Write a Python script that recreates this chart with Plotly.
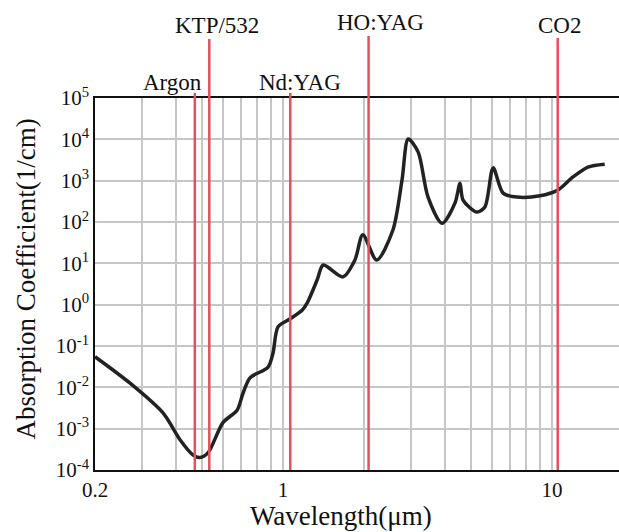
import math
import plotly.graph_objects as go

# Absorption curve (wavelength in µm, absorption coefficient in 1/cm)
wavelength = [0.2, 0.27, 0.358, 0.414, 0.463, 0.49, 0.526, 0.598, 0.675, 0.71, 0.754, 0.88,
              0.918, 0.958, 1.06, 1.18, 1.23, 1.34, 1.41, 1.67, 1.85, 1.98, 2.23, 2.56, 2.77,
              2.92, 3.18, 3.46, 3.90, 4.36, 4.55, 4.67, 5.26, 5.63, 6.04, 6.58, 7.41, 9.02,
              10.5, 11.97, 13.6, 15.7]
absorption = [0.055, 0.0126, 0.0024, 5.4e-4, 2.3e-4, 2.0e-4, 2.6e-4, 1.4e-3, 2.8e-3, 0.0072, 0.017, 0.031,
              0.068, 0.29, 0.45, 0.74, 1.1, 4.0, 9.1, 4.7, 12, 49, 12, 63, 1050,
              10200, 4900, 400, 93, 290, 870, 340, 174, 230, 2040, 500, 400, 430,
              590, 1230, 2140, 2510]

# Laser lines
laser_names = ["Argon", "KTP/532", "Nd:YAG", "HO:YAG", "CO2"]
laser_wl = [0.47, 0.532, 1.064, 2.08, 10.5]

# Axis ticks
x_tickvals = [0.2, 1, 10]
x_ticktext = ["0.2", "1", "10"]
y_exps = [-4, -3, -2, -1, 0, 1, 2, 3, 4, 5]
x_minor = [0.3, 0.4, 0.5, 0.6, 0.7, 0.8, 0.9, 2, 3, 4, 5, 6, 7, 8, 9]

FONT = "Liberation Serif"
GRID = "#c6c6c8"
RED = "#e4505e"

fig = go.Figure()
fig.add_trace(go.Scatter(x=wavelength, y=absorption, mode="lines",
                         line=dict(color="#222222", width=3.5, shape="spline", smoothing=0.8),
                         hoverinfo="skip", showlegend=False))

# line tops (paper y) and label positions
line_top = [1.0134, 1.1586, 1.0134, 1.167, 1.161]
label_y = [1.043, 1.196, 1.043, 1.204, 1.196]
label_dx = [-22, 8, 10, 12, 2]
for name, wl, top, ly, dx in zip(laser_names, laser_wl, line_top, label_y, label_dx):
    fig.add_shape(type="line", xref="x", yref="paper", x0=wl, x1=wl, y0=0, y1=top,
                  line=dict(color=RED, width=2.5), layer="above")
    fig.add_annotation(x=math.log10(wl), xref="x", y=ly, yref="paper", text=name, showarrow=False,
                       xshift=dx, xanchor="center", yanchor="middle",
                       font=dict(family=FONT, size=23, color="#111"))

fig.add_annotation(x=0.469, xref="paper", y=-0.124, yref="paper", text="Wavelength(μm)",
                   showarrow=False, xanchor="center", yanchor="middle",
                   font=dict(family=FONT, size=27, color="#111"))
fig.add_annotation(x=-0.1317, xref="paper", y=0.515, yref="paper", text="Absorption Coefficient(1/cm)",
                   showarrow=False, textangle=-90, xanchor="center", yanchor="middle",
                   font=dict(family=FONT, size=27, color="#111"))

fig.update_layout(
    width=619, height=532,
    margin=dict(l=95, r=0, t=98, b=62),
    paper_bgcolor="white", plot_bgcolor="white",
    font=dict(family=FONT, size=21, color="#111"),
    xaxis=dict(type="log", range=[-0.69897, 1.249], tickvals=x_tickvals, ticktext=x_ticktext,
               showgrid=True, gridcolor=GRID, gridwidth=1.5,
               minor=dict(tickvals=x_minor, showgrid=True, gridcolor=GRID, gridwidth=1.5, ticks=""),
               showline=True, linecolor="#111", linewidth=1.5, mirror=True, ticks="",
               zeroline=False, tickfont=dict(family=FONT, size=21)),
    yaxis=dict(type="log", range=[-4, 5], tickvals=[10.0 ** e for e in y_exps],
               ticktext=[f"10<sup>{e}</sup>" for e in y_exps],
               showgrid=True, gridcolor=GRID, gridwidth=1.5,
               showline=True, linecolor="#111", linewidth=1.5, ticks="",
               zeroline=False, tickfont=dict(family=FONT, size=21)),
)

fig.write_html("out.html")
